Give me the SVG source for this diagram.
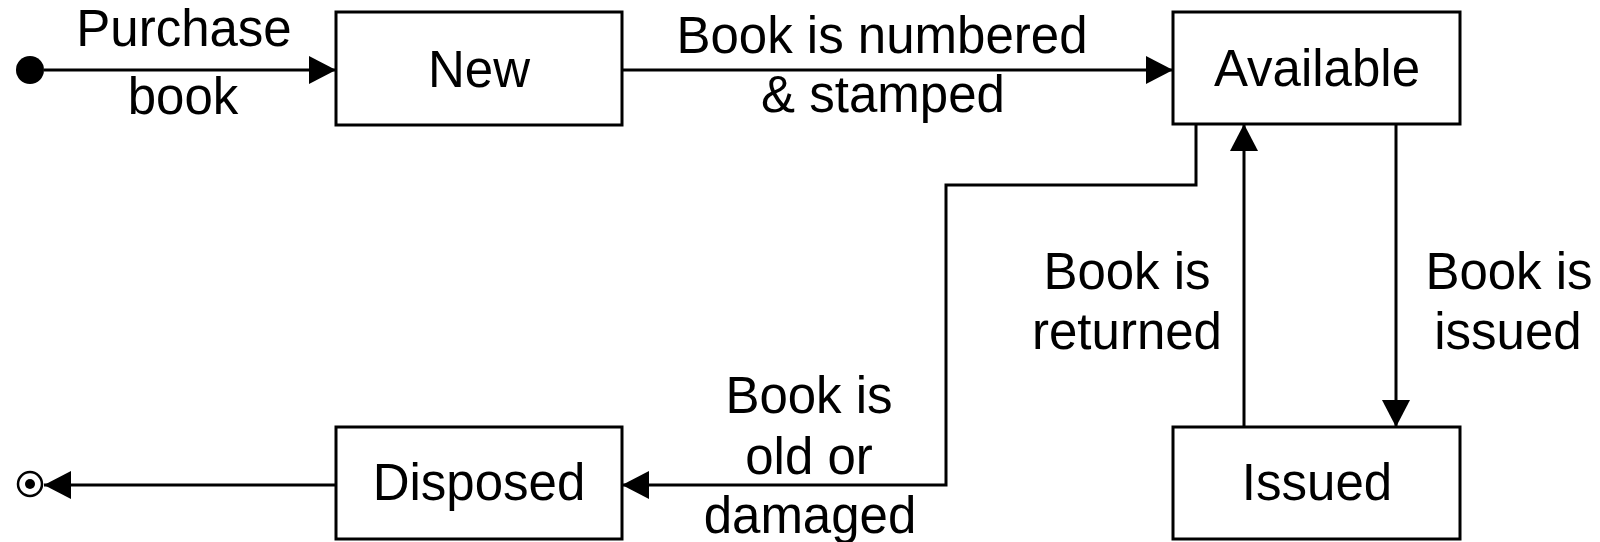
<svg xmlns="http://www.w3.org/2000/svg" width="1600" height="542" viewBox="0 0 1600 542">
<style>
.box{fill:#fff;stroke:#000;stroke-width:3}
.t{font-family:"Liberation Sans",Arial,sans-serif;font-size:51px;fill:#000;text-anchor:middle}
.c{fill:none;stroke:#000;stroke-width:3}
</style>
<defs>
<marker id="arr" viewBox="0 0 27 28" refX="27" refY="14" markerWidth="27" markerHeight="28" markerUnits="userSpaceOnUse" orient="auto">
<path d="M0,0 L27,14 L0,28 z" fill="#000"/>
</marker>
</defs>
<rect width="1600" height="542" fill="#fff"/>
<g id="connectors">
<path class="c" d="M44,70 L336,70" marker-end="url(#arr)"/>
<path class="c" d="M622,70 L1173,70" marker-end="url(#arr)"/>
<path class="c" d="M1396,124 L1396,427" marker-end="url(#arr)"/>
<path class="c" d="M1244,427 L1244,124" marker-end="url(#arr)"/>
<path class="c" d="M1196,120 L1196,185 L946,185 L946,485 L622,485" marker-end="url(#arr)"/>
<path class="c" d="M336,485 L44,485" marker-end="url(#arr)"/>
</g>
<g id="labels">
<text class="t" x="184" y="46">Purchase</text>
<text class="t" x="183" y="114">book</text>
<text class="t" x="882" y="53">Book is numbered</text>
<text class="t" x="883" y="112">&amp; stamped</text>
<text class="t" x="1127" y="289">Book is</text>
<text class="t" x="1127" y="349">returned</text>
<text class="t" x="1509" y="289">Book is</text>
<text class="t" x="1508" y="349">issued</text>
<text class="t" x="809" y="413">Book is</text>
<text class="t" x="809" y="474">old or</text>
<text class="t" x="810" y="533">damaged</text>
</g>
<g id="start"><circle cx="30" cy="70" r="14" fill="#000"/></g>
<g id="end"><circle cx="30" cy="484" r="12" fill="#fff" stroke="#000" stroke-width="2.5"/><circle cx="30" cy="484" r="5" fill="#000"/></g>
<g id="new"><rect class="box" x="336" y="12" width="286" height="113"/><text class="t" x="479" y="87">New</text></g>
<g id="available"><rect class="box" x="1173" y="12" width="287" height="112"/><text class="t" x="1317" y="86">Available</text></g>
<g id="disposed"><rect class="box" x="336" y="427" width="286" height="112"/><text class="t" x="479" y="500">Disposed</text></g>
<g id="issued"><rect class="box" x="1173" y="427" width="287" height="112"/><text class="t" x="1317" y="500">Issued</text></g>
</svg>
